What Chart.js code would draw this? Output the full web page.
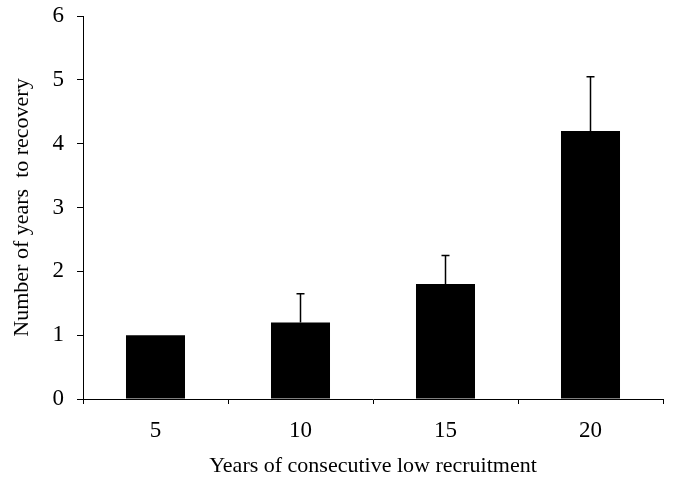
<!DOCTYPE html>
<html>
<head>
<meta charset="utf-8">
<script src="https://cdn.jsdelivr.net/npm/chart.js@4/dist/chart.umd.min.js"></script>
<style>
  html, body { margin: 0; padding: 0; background: #fff; }
  #wrap { width: 679px; height: 486px; position: relative; }
</style>
</head>
<body>
<div id="wrap"><canvas id="c" width="679" height="486"></canvas></div>
<script>
const categories = ['5', '10', '15', '20'];
const meanYears = [1.0, 1.2, 1.8, 4.2];
const errorTop = [1.0, 1.65, 2.25, 5.05];
const yTicks = [0, 1, 2, 3, 4, 5, 6];

const FONT = '"Liberation Serif", "Times New Roman", serif';

const errorBarPlugin = {
  id: 'errorBars',
  afterDatasetsDraw(chart) {
    const ctx = chart.ctx;
    const meta = chart.getDatasetMeta(0);
    const yScale = chart.scales.y;
    ctx.save();
    ctx.strokeStyle = '#000';
    ctx.lineWidth = 1.5;
    meta.data.forEach((bar, i) => {
      if (errorTop[i] <= meanYears[i]) return;
      const x = bar.x;
      const yTop = yScale.getPixelForValue(errorTop[i]);
      const yBase = yScale.getPixelForValue(meanYears[i]);
      ctx.beginPath();
      ctx.moveTo(x, yBase);
      ctx.lineTo(x, yTop);
      ctx.moveTo(x - 4, yTop);
      ctx.lineTo(x + 4, yTop);
      ctx.stroke();
    });
    ctx.restore();
  }
};

new Chart(document.getElementById('c'), {
  type: 'bar',
  data: {
    labels: categories,
    datasets: [{
      data: meanYears,
      backgroundColor: '#000',
      borderWidth: 0,
      categoryPercentage: 1.0,
      barPercentage: 0.407
    }]
  },
  options: {
    responsive: false,
    animation: false,
    devicePixelRatio: 1,
    layout: { padding: { left: 0, top: 16, right: 16, bottom: 0 } },
    plugins: { legend: { display: false }, tooltip: { enabled: false } },
    scales: {
      x: {
        grid: { display: true, drawOnChartArea: false, drawTicks: true, tickLength: 5, color: '#000', offset: true },
        border: { display: true, color: '#000', width: 1 },
        ticks: { color: '#000', font: { family: FONT, size: 23 }, padding: 13 },
        title: { display: true, text: 'Years of consecutive low recruitment', color: '#000', font: { family: FONT, size: 22 }, padding: { top: 0, bottom: 7 } },
        afterFit(scale) { scale.height = 87; scale.paddingLeft = 0; scale.paddingRight = 0; }
      },
      y: {
        min: 0, max: 6,
        afterBuildTicks(scale) { scale.ticks = yTicks.map(v => ({ value: v })); },
        grid: { display: true, drawOnChartArea: false, drawTicks: true, tickLength: 6, color: '#000' },
        border: { display: true, color: '#000', width: 1 },
        ticks: { color: '#000', font: { family: FONT, size: 23 }, padding: 13 },
        title: { display: true, text: 'Number of years  to recovery', color: '#000', font: { family: FONT, size: 22 }, padding: { top: 9, bottom: 0 } },
        afterFit(scale) { scale.width = 83; scale.paddingTop = 0; scale.paddingBottom = 0; }
      }
    }
  },
  plugins: [errorBarPlugin]
});
</script>
</body>
</html>
